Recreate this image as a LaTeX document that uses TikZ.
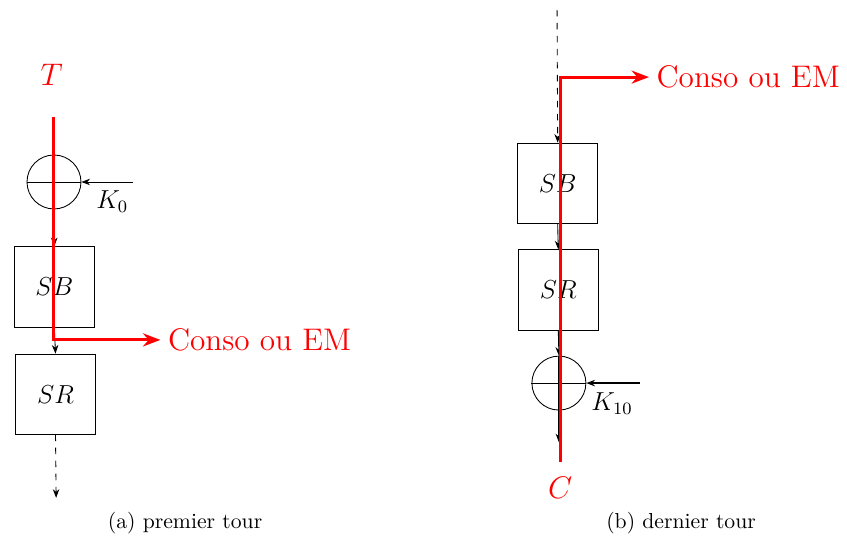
\documentclass[tikz,border=0pt]{standalone}
\usetikzlibrary{arrows.meta}
\tikzset{
  tourbox/.style={draw, minimum size=1.3cm, inner sep=0pt, font=\large},
  xorgate/.style={draw, circle, minimum size=0.875cm, inner sep=0pt},
  flow/.style={-{Stealth[length=4pt,width=3pt]}},
  fuite/.style={red, line width=1.4pt, -{Stealth[length=8pt,width=6pt]}},
  rouge/.style={red, font=\Large},
}
\begin{document}
\begin{tikzpicture}
\useasboundingbox (0,0) rectangle (13.73,8.72);

% Premier tour
\node[rouge] (T) at (0.84,7.50) {$T$};
\node[xorgate] (xorA) at (0.875,5.77) {};
\draw (xorA.west) -- (xorA.east) (xorA.north) -- (xorA.south);
\coordinate (keyA) at (2.16,5.77);
\node[font=\large] (kA) at (1.82,5.45) {$K_0$};
\node[tourbox] (sbA) at (0.88,4.07) {$SB$};
\node[tourbox] (srA) at (0.90,2.33) {$SR$};
\coordinate (finA) at (0.91,0.65);

\draw[flow] (keyA) -- (xorA.east);
\draw[flow] (xorA.south) -- (sbA.north);
\draw[flow] (sbA.south) -- (srA.north);
\draw[flow, dashed] (srA.south) -- (finA);

\coordinate (debA) at (0.86,6.82);
\node[rouge, anchor=west] (consoA) at (2.60,3.21) {Conso ou EM};
\draw[fuite] (debA) |- (consoA.west);

\node (capA) at (3.0,0.24) {(a) premier tour};

% Dernier tour
\coordinate (debB) at (9.03,8.56);
\node[tourbox] (sbB) at (9.04,5.75) {$SB$};
\node[tourbox] (srB) at (9.05,4.02) {$SR$};
\node[xorgate] (xorB) at (9.06,2.51) {};
\draw (xorB.west) -- (xorB.east) (xorB.north) -- (xorB.south);
\coordinate (keyB) at (10.37,2.51);
\node[font=\large] (kB) at (9.92,2.17) {$K_{10}$};
\coordinate (finB) at (9.06,1.55);

\draw[flow, dashed] (debB) -- (sbB.north);
\draw[flow] (sbB.south) -- (srB.north);
\draw[flow] (srB.south) -- (xorB.north);
\draw[flow, thick] (keyB) -- (xorB.east);
\draw[flow] (xorB.south) -- (finB);

\node[rouge] (C) at (9.08,0.81) {$C$};
\coordinate (basB) at (9.08,1.23);
\node[rouge, anchor=west] (consoB) at (10.52,7.47) {Conso ou EM};
\draw[fuite] (basB) |- (consoB.west);

\node (capB) at (11.04,0.24) {(b) dernier tour};

\end{tikzpicture}
\end{document}
